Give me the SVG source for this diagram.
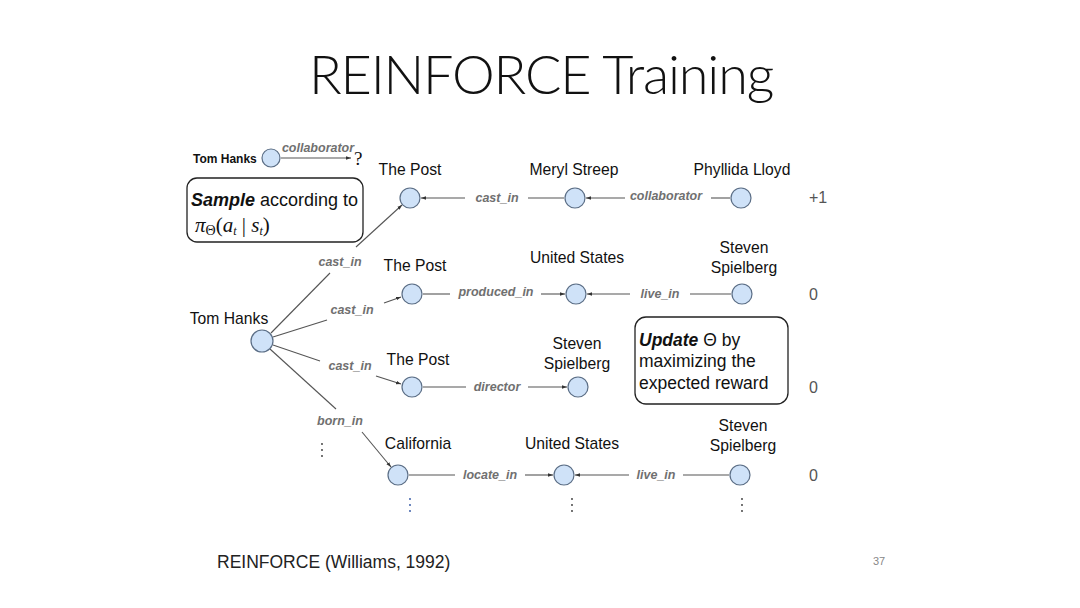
<svg xmlns="http://www.w3.org/2000/svg" width="1080" height="608" viewBox="0 0 1080 608">
<defs>
<marker id="ah" viewBox="0 0 10 10" refX="10" refY="5" markerWidth="5" markerHeight="5" orient="auto-start-reverse" markerUnits="userSpaceOnUse">
<path d="M0,1.5 L10,5 L0,8.5 z" fill="#333"/>
</marker>
<style>
.n{fill:#cfe2f8;stroke:#5b6e86;stroke-width:1.2}
.t{font-family:"Liberation Sans",Arial,sans-serif;font-size:15.7px;fill:#111}
.e{font-family:"Liberation Sans",Arial,sans-serif;font-size:12.5px;font-style:italic;font-weight:bold;fill:#707070}
.l{stroke:#555;stroke-width:1.1;fill:none}
.r{font-family:"Liberation Sans",Arial,sans-serif;font-size:16px;fill:#555}
.b{fill:#fff;stroke:#222;stroke-width:1.3}
</style>
</defs>
<rect width="1080" height="608" fill="#fff"/>
<text x="541" y="94" text-anchor="middle" font-family="Lato,'Open Sans',sans-serif" font-weight="300" font-size="54" fill="#111" letter-spacing="-1.2">REINFORCE Training</text>

<g id="connectors">
<line class="l" x1="281" y1="158" x2="351" y2="158" marker-end="url(#ah)"/>
<line class="l" x1="271" y1="333" x2="330" y2="273"/>
<line class="l" x1="356" y1="247" x2="402" y2="205" marker-end="url(#ah)"/>
<line class="l" x1="273" y1="337" x2="327" y2="320"/>
<line class="l" x1="384" y1="303" x2="401" y2="297" marker-end="url(#ah)"/>
<line class="l" x1="273" y1="345" x2="320" y2="361"/>
<line class="l" x1="376" y1="376" x2="401" y2="384" marker-end="url(#ah)"/>
<line class="l" x1="270" y1="349" x2="336" y2="409"/>
<line class="l" x1="362" y1="432" x2="391" y2="467" marker-end="url(#ah)"/>
<line class="l" x1="465" y1="198" x2="421" y2="198" marker-end="url(#ah)"/>
<line class="l" x1="528" y1="198" x2="564" y2="198"/>
<line class="l" x1="625" y1="198" x2="586" y2="198" marker-end="url(#ah)"/>
<line class="l" x1="711" y1="198" x2="730" y2="198"/>
<line class="l" x1="423" y1="294" x2="450" y2="294"/>
<line class="l" x1="541" y1="294" x2="565" y2="294" marker-end="url(#ah)"/>
<line class="l" x1="630" y1="294" x2="587" y2="294" marker-end="url(#ah)"/>
<line class="l" x1="690" y1="294" x2="731" y2="294"/>
<line class="l" x1="423" y1="387" x2="466" y2="387"/>
<line class="l" x1="528" y1="387" x2="567" y2="387" marker-end="url(#ah)"/>
<line class="l" x1="409" y1="475" x2="455" y2="475"/>
<line class="l" x1="525" y1="475" x2="553" y2="475" marker-end="url(#ah)"/>
<line class="l" x1="629" y1="475" x2="575" y2="475" marker-end="url(#ah)"/>
<line class="l" x1="683" y1="475" x2="729" y2="475"/>
<text class="e" x="318" y="152" text-anchor="middle" font-size="9.5" font-weight="normal">collaborator</text>
<text class="e" x="340" y="266" text-anchor="middle">cast_in</text>
<text class="e" x="352" y="314" text-anchor="middle">cast_in</text>
<text class="e" x="350" y="370" text-anchor="middle">cast_in</text>
<text class="e" x="340" y="425" text-anchor="middle">born_in</text>
<text class="e" x="497" y="202" text-anchor="middle">cast_in</text>
<text class="e" x="666" y="200" text-anchor="middle">collaborator</text>
<text class="e" x="496" y="296" text-anchor="middle">produced_in</text>
<text class="e" x="660" y="298" text-anchor="middle">live_in</text>
<text class="e" x="497" y="391" text-anchor="middle">director</text>
<text class="e" x="490" y="479" text-anchor="middle">locate_in</text>
<text class="e" x="656" y="479" text-anchor="middle">live_in</text>
</g>

<g id="query">
<text x="193" y="163" font-family="'Liberation Sans',Arial,sans-serif" font-size="12" font-weight="bold" fill="#111">Tom Hanks</text>
<circle class="n" cx="271" cy="158" r="9"/>
<text x="354" y="165" font-family="'Liberation Serif','Times New Roman',serif" font-size="19" fill="#111">?</text>
</g>

<g id="sample-box">
<rect class="b" x="187" y="178" width="176" height="64" rx="10"/>
<text x="191" y="206" font-family="'Liberation Sans',Arial,sans-serif" font-size="18" fill="#111"><tspan font-weight="bold" font-style="italic">Sample</tspan> according to</text>
<text x="195" y="232" font-family="'Liberation Serif','Times New Roman',serif" font-size="21" fill="#111"><tspan font-style="italic">π</tspan><tspan font-size="14" dy="3">Θ</tspan><tspan dy="-3">(</tspan><tspan font-style="italic">a</tspan><tspan font-size="12" font-style="italic" dy="3">t</tspan><tspan dy="-3"> | </tspan><tspan font-style="italic">s</tspan><tspan font-size="12" font-style="italic" dy="3">t</tspan><tspan dy="-3">)</tspan></text>
</g>

<g id="update-box">
<rect class="b" x="635" y="317" width="153" height="87" rx="11"/>
<text x="639" y="346" font-family="'Liberation Sans',Arial,sans-serif" font-size="17.5" fill="#111"><tspan font-weight="bold" font-style="italic">Update</tspan> Θ by</text>
<text x="639" y="367" font-family="'Liberation Sans',Arial,sans-serif" font-size="17.5" fill="#111">maximizing the</text>
<text x="639" y="389" font-family="'Liberation Sans',Arial,sans-serif" font-size="17.5" fill="#111">expected reward</text>
</g>

<g id="tom-hanks"><circle class="n" cx="262" cy="341" r="11"/><text class="t" x="229" y="324" text-anchor="middle">Tom Hanks</text></g>

<g id="r1-the-post"><circle class="n" cx="410" cy="198" r="10"/><text class="t" x="410" y="175" text-anchor="middle">The Post</text></g>
<g id="r1-meryl"><circle class="n" cx="575" cy="198" r="10"/><text class="t" x="574" y="175" text-anchor="middle">Meryl Streep</text></g>
<g id="r1-phyllida"><circle class="n" cx="741" cy="198" r="10"/><text class="t" x="742" y="175" text-anchor="middle">Phyllida Lloyd</text></g>

<g id="r2-the-post"><circle class="n" cx="412" cy="294" r="10"/><text class="t" x="415" y="271" text-anchor="middle">The Post</text></g>
<g id="r2-us"><circle class="n" cx="576" cy="294" r="10"/><text class="t" x="577" y="263" text-anchor="middle">United States</text></g>
<g id="r2-spielberg"><circle class="n" cx="742" cy="294" r="10"/><text class="t" x="744" y="253" text-anchor="middle">Steven</text><text class="t" x="744" y="273" text-anchor="middle">Spielberg</text></g>

<g id="r3-the-post"><circle class="n" cx="412" cy="387" r="10"/><text class="t" x="418" y="365" text-anchor="middle">The Post</text></g>
<g id="r3-spielberg"><circle class="n" cx="578" cy="387" r="10"/><text class="t" x="577" y="349" text-anchor="middle">Steven</text><text class="t" x="577" y="369" text-anchor="middle">Spielberg</text></g>

<g id="r4-california"><circle class="n" cx="398" cy="475" r="10"/><text class="t" x="418" y="449" text-anchor="middle">California</text></g>
<g id="r4-us"><circle class="n" cx="564" cy="475" r="10"/><text class="t" x="572" y="449" text-anchor="middle">United States</text></g>
<g id="r4-spielberg"><circle class="n" cx="740" cy="475" r="10"/><text class="t" x="743" y="431" text-anchor="middle">Steven</text><text class="t" x="743" y="451" text-anchor="middle">Spielberg</text></g>

<g id="rewards">
<text class="r" x="809" y="203">+1</text>
<text class="r" x="809" y="300">0</text>
<text class="r" x="809" y="393">0</text>
<text class="r" x="809" y="481">0</text>
</g>

<g id="ellipses" fill="#333">
<circle cx="322" cy="444" r="0.9"/><circle cx="322" cy="450" r="0.9"/><circle cx="322" cy="456" r="0.9"/>
<circle cx="410" cy="499" r="0.9" fill="#2a4fa0"/><circle cx="410" cy="505" r="0.9" fill="#2a4fa0"/><circle cx="410" cy="511" r="0.9" fill="#2a4fa0"/>
<circle cx="572" cy="499" r="0.9"/><circle cx="572" cy="505" r="0.9"/><circle cx="572" cy="511" r="0.9"/>
<circle cx="742" cy="499" r="0.9"/><circle cx="742" cy="505" r="0.9"/><circle cx="742" cy="511" r="0.9"/>
</g>

<text x="217" y="568" font-family="'Liberation Sans',Arial,sans-serif" font-size="17.5" fill="#222">REINFORCE (Williams, 1992)</text>
<text x="879" y="565" text-anchor="middle" font-family="'Liberation Sans',Arial,sans-serif" font-size="11" fill="#888">37</text>
</svg>
